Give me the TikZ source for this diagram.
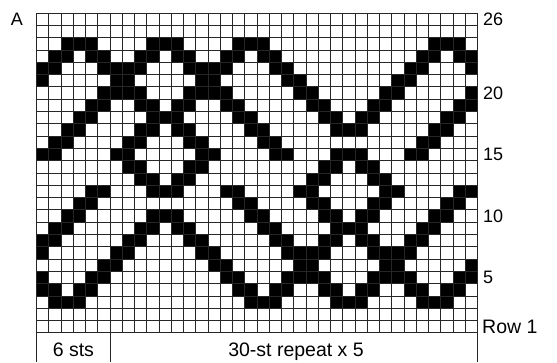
\documentclass[tikz,border=0pt]{standalone}
\usepackage{fontspec}
\setmainfont{Liberation Sans}
\begin{document}
\begin{tikzpicture}[x=1pt,y=-1pt,
  gridline/.style={line width=0.8pt,draw=black!85},
  cell/.style={fill=black},
  lbl/.style={inner sep=0pt,font=\fontsize{18}{20}\selectfont},
  biglbl/.style={inner sep=0pt,font=\fontsize{19.5}{22}\selectfont}]
\useasboundingbox (0,0) rectangle (557,362);
\fill[white] (0,0) rectangle (557,362);
\def\gx{36.6}\def\gy{13}\def\cw{12.25}\def\ch{12.3}
% black cells: row / list of column ranges
\foreach \r/\lst in {
 24/{3/5,10/12,17/19,33/35},
 23/{2/3,5/6,9/10,12/13,16/17,19/20,32/33,35/36},
 22/{1/2,6/9,13/16,20/21,31/32,36/36},
 21/{1/1,7/8,14/15,21/22,30/31},
 20/{6/9,13/16,22/23,29/30,36/36},
 19/{5/6,9/10,12/13,16/17,23/24,28/29,35/36},
 18/{4/5,10/12,17/18,24/25,27/28,34/35},
 17/{3/4,9/10,12/13,18/19,25/27,33/34},
 16/{2/3,8/9,13/14,19/20,32/33},
 15/{1/2,7/8,14/15,20/21,25/27,31/32},
 14/{8/9,13/14,24/25,27/28},
 13/{9/10,12/13,23/24,28/29},
 12/{5/6,10/12,16/17,22/23,29/30,35/36},
 11/{4/5,17/18,23/24,28/29,34/35},
 10/{3/4,10/12,18/19,24/25,27/28,33/34},
 9/{2/3,9/10,12/13,19/20,25/27,32/33},
 8/{1/2,8/9,13/14,20/21,24/25,27/28,31/32},
 7/{1/1,7/8,14/15,21/24,28/31},
 6/{6/7,15/16,22/23,29/30,36/36},
 5/{1/1,5/6,16/17,21/24,28/31,35/36},
 4/{1/2,4/5,17/18,20/21,24/25,27/28,31/32,34/35},
 3/{2/4,18/20,25/27,32/34}} {
  \foreach \a/\b in \lst {
    \fill[cell] (\gx+\cw*\a-\cw,\gy+\ch*26-\ch*\r) rectangle (\gx+\cw*\b,\gy+\ch*27-\ch*\r);
  }
}
% grid
\foreach \i in {0,...,36} {
  \draw[gridline] (\gx+\cw*\i,\gy) -- (\gx+\cw*\i,\gy+\ch*26);
}
\foreach \j in {0,...,26} {
  \draw[gridline] (\gx,\gy+\ch*\j) -- (\gx+\cw*36,\gy+\ch*\j);
}
% bottom brackets
\coordinate (bl) at (\gx,\gy+\ch*26);
\coordinate (bm) at (\gx+\cw*6,\gy+\ch*26);
\coordinate (br) at (\gx+\cw*36,\gy+\ch*26);
\coordinate (blx) at (\gx,362);
\coordinate (bmx) at (\gx+\cw*6,362);
\coordinate (brx) at (\gx+\cw*36,362);
\draw[gridline] (bl) -- (blx);
\draw[gridline] (bm) -- (bmx);
\draw[gridline] (br) -- (brx);
% labels
\node[lbl] (la) at (17,19) {A};
\node[lbl,anchor=base west] (r26) at (483,19.15+6.45) {26};
\node[lbl,anchor=base west] (r20) at (483,92.95+6.45) {20};
\node[lbl,anchor=base west] (r15) at (483,154.45+6.45) {15};
\node[lbl,anchor=base west] (r10) at (483,215.95+6.45) {10};
\node[lbl,anchor=base west] (r5) at (483,277.45+6.45) {5};
\node[biglbl,anchor=base west] (r1) at (482,326.65+6.8) {Row 1};
\node[biglbl,anchor=base] (six) at (73.35,356.5) {6 sts};
\node[biglbl,anchor=base] (rep) at (296,356.5) {30-st repeat x 5};
\end{tikzpicture}
\end{document}
